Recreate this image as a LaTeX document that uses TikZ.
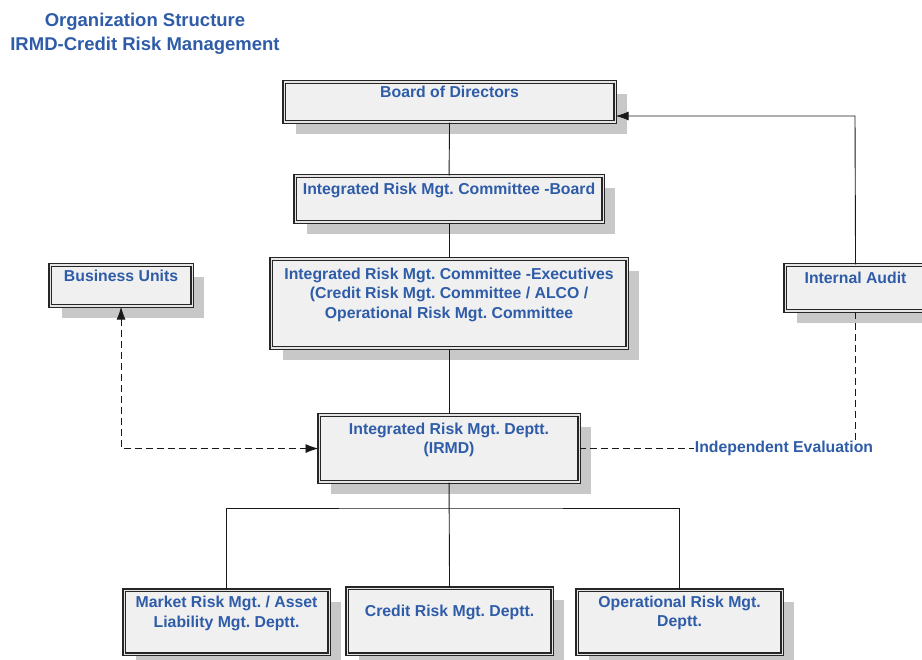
\documentclass[tikz,border=0pt]{standalone}
\usepackage{fontspec}
\setmainfont{Liberation Sans}
\usetikzlibrary{arrows.meta,shadows}
\frenchspacing
\definecolor{txtblue}{HTML}{2E5CA8}
\definecolor{boxfill}{HTML}{F0F0F0}
\definecolor{shgray}{HTML}{C8C8C8}
\newcommand\bx[4]{\parbox[c][#2pt][t]{#1pt}{\frenchspacing\centering\rule{0pt}{#3pt}#4\par}}
\tikzset{
  orgbox/.style={anchor=north west, inner sep=0pt, fill=boxfill,
    draw=black!85, line width=1.1pt, double=black!10, double distance=1.1pt,
    drop shadow={shadow xshift=12pt, shadow yshift=-12pt, fill=shgray, opacity=1},
    text=txtblue, font=\fontsize{15.8}{19.5}\selectfont\bfseries},
  conn/.style={draw=black!90, line width=0.9pt},
  dconn/.style={draw=black!90, line width=0.9pt, dash pattern=on 7pt off 4pt},
  tip/.style={-{Latex[length=13pt,width=9pt]}},
}
\begin{document}
\begin{tikzpicture}[x=1pt,y=-1pt]
\useasboundingbox (0,0) rectangle (922,660);
% title
\node (title) [align=center, text=txtblue, font=\fontsize{18.5}{24}\selectfont\bfseries, anchor=center] at (145,34) {Organization Structure\\IRMD-Credit Risk Management};
% boxes
\node (board) [orgbox] at (283.5,81.5) {\bx{331}{40}{15}{Board of Directors}};
\node (irmcb) [orgbox] at (294.5,175.5) {\bx{308}{46}{18}{Integrated Risk Mgt. Committee -Board}};
\node (exec) [orgbox] at (270.5,258.5) {\bx{356}{89}{20}{Integrated Risk Mgt. Committee -Executives\\(Credit Risk Mgt. Committee / ALCO /\\Operational Risk Mgt. Committee}};
\node (bu) [orgbox] at (49.5,264.5) {\bx{142}{41}{16.5}{Business Units}};
\node (ia) [orgbox] at (784.5,264.5) {\bx{141}{46}{18.2}{Internal Audit}};
\node (irmd) [orgbox] at (318.5,414.5) {\bx{260}{67}{19}{Integrated Risk Mgt. Deptt.\\(IRMD)}};
\node (market) [orgbox] at (123.5,589.5) {\bx{205}{64}{17.5}{Market Risk Mgt. / Asset\\Liability Mgt. Deptt.}};
\node (credit) [orgbox] at (346.5,587.5) {\bx{205}{66}{28}{Credit Risk Mgt. Deptt.}};
\node (oper) [orgbox] at (576.5,589.5) {\bx{205}{64}{17}{Operational Risk Mgt.\\Deptt.}};
% solid connectors
\draw[conn] (board.south) -- (irmcb.north);
\draw[conn] (irmcb.south) -- (exec.north);
\draw[conn] (exec.south) -- (irmd.north);
\draw[conn] (irmd.south) -- (credit.north);
\coordinate (bus) at (449,508);
\draw[conn] (market.north) |- (bus) -| (oper.north);
\coordinate (iatop) at (855,116);
\draw[conn, tip] (ia.north) -- (iatop) -- (iatop -| board.east);
% dashed connectors
\draw[dconn, {Latex[length=13pt,width=9pt]}-{Latex[length=13pt,width=9pt]}] (bu.south) |- (irmd.west);
\draw[dconn] (ia.south) |- (irmd.east);
\node (indep) [fill=white, inner sep=1pt, text=txtblue, font=\fontsize{15.8}{18}\selectfont\bfseries] at (784,448) {Independent Evaluation};
\end{tikzpicture}
\end{document}
